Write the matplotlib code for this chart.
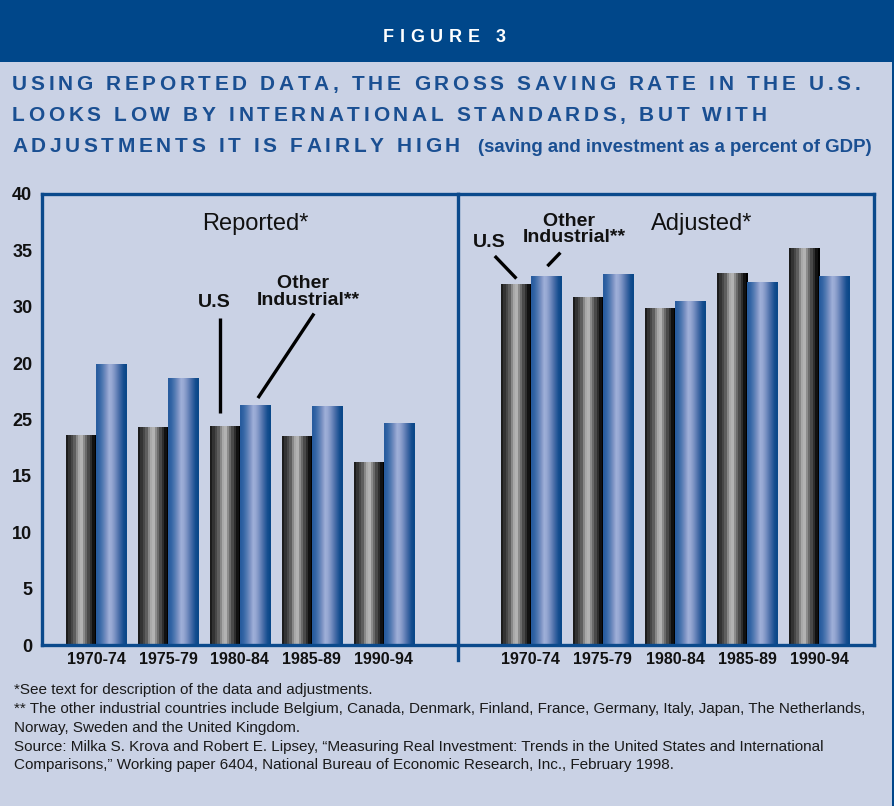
import matplotlib
matplotlib.use('Agg')
import matplotlib.pyplot as plt
import matplotlib.colors as mcolors
import numpy as np
from matplotlib import font_manager
from matplotlib.font_manager import FontProperties
from matplotlib.lines import Line2D
from matplotlib.patches import Rectangle

# ---------------- data ----------------
periods = ['1970-74', '1975-79', '1980-84', '1985-89', '1990-94']
reported_us = [18.6, 19.3, 19.4, 18.5, 16.2]
reported_other = [24.9, 23.7, 21.3, 21.2, 19.7]
adjusted_us = [32.0, 30.9, 29.9, 33.0, 35.2]
adjusted_other = [32.7, 32.9, 30.5, 32.2, 32.7]
y_ticks = [0, 5, 10, 15, 20, 25, 30, 35, 40]
y_tick_labels = ['0', '5', '10', '15', '25', '20', '30', '35', '40']

banner_text = 'FIGURE 3'
title_lines = ['USING REPORTED DATA, THE GROSS SAVING RATE IN THE U.S.',
               'LOOKS LOW BY INTERNATIONAL STANDARDS, BUT WITH',
               'ADJUSTMENTS IT IS FAIRLY HIGH']
subtitle = '(saving and investment as a percent of GDP)'
footnotes = ['*See text for description of the data and adjustments.',
             '** The other industrial countries include Belgium, Canada, Denmark, Finland, France, Germany, Italy, Japan, The Netherlands,',
             'Norway, Sweden and the United Kingdom.',
             'Source: Milka S. Krova and Robert E. Lipsey, \u201cMeasuring Real Investment: Trends in the United States and International',
             'Comparisons,\u201d Working paper 6404, National Bureau of Economic Research, Inc., February 1998.']

# ---------------- style ----------------
BG = '#CAD2E5'
NAVY = '#00478A'
FRAME = '#0B4A8C'
TITLE_C = '#1A4F92'
names = {f.name for f in font_manager.fontManager.ttflist}
SANS = 'Liberation Sans' if 'Liberation Sans' in names else 'DejaVu Sans'
NARROW = 'Liberation Sans Narrow' if 'Liberation Sans Narrow' in names else SANS

W, H = 895, 806
fig = plt.figure(figsize=(W / 100, H / 100), dpi=100)
fig.patch.set_facecolor(BG)
renderer = fig.canvas.get_renderer()


def fx(px):
    return px / W


def fy(py):
    return 1 - py / H


def twidth(s, fp):
    w, h, d = renderer.get_text_width_height_descent(s, fp, ismath=False)
    return w


def advances(s, fp):
    base = twidth('HH', fp)
    return [twidth('H' + ch + 'H', fp) - base for ch in s]


def tracked(x0, ybase, s, fp, tracking, color):
    x = x0
    for ch, adv in zip(s, advances(s, fp)):
        if ch != ' ':
            fig.text(fx(x), fy(ybase), ch, fontproperties=fp, color=color,
                     ha='left', va='baseline')
        x += adv + tracking
    return x - tracking


def fit_size(s, family, weight, target, base=12.0):
    fp = FontProperties(family=family, weight=weight, size=base)
    return base * target / twidth(s, fp)


# banner and right border
fig.add_artist(Rectangle((0, fy(62)), 1, 62 / H, transform=fig.transFigure,
                         facecolor=NAVY, edgecolor='none'))
fig.add_artist(Rectangle((fx(892), 0), 3 / W, 1, transform=fig.transFigure,
                         facecolor=NAVY, edgecolor='none'))

# FIGURE 3
fp_fig = FontProperties(family=SANS, weight='bold', size=13)
adv = advances(banner_text, fp_fig)
trk = (123 - sum(adv)) / (len(banner_text) - 1)
tracked(383, 42, banner_text, fp_fig, trk, 'white')

# Title lines (letter-spaced)
fp_t = FontProperties(family=NARROW, weight='bold', size=15)
adv = advances(title_lines[0], fp_t)
trk = (848 - sum(adv)) / (len(title_lines[0]) - 1)
for s, yb in zip(title_lines, [90, 121, 152]):
    tracked(12, yb, s, fp_t, trk, TITLE_C)
sz = fit_size(subtitle, NARROW, 'bold', 394)
fig.text(fx(478), fy(152), subtitle, family=NARROW, weight='bold', size=sz,
         color=TITLE_C, ha='left', va='baseline')

# Footnotes
fs = fit_size(footnotes[1], NARROW, 'normal', 852)
for s, yb in zip(footnotes, [694, 713, 732, 751, 769]):
    fig.text(fx(14), fy(yb), s, family=NARROW, size=fs, color='#1a1a1a',
             ha='left', va='baseline')

# ---------------- axes ----------------
axL = fig.add_axes([fx(42), fy(645), fx(458) - fx(42), (645 - 194) / H])
axR = fig.add_axes([fx(458), fy(645), fx(874) - fx(458), (645 - 194) / H])

GRAY = ['#1c1c1c', '#333333', '#474747', '#5e5e5e', '#888888', '#a8a8a8',
        '#b2b2b2', '#8c8c8c', '#6a6a6a', '#4a4a4a', '#2e2e2e', '#111111', '#000000']
BLUE = ['#285c9e', '#3566a6', '#4a75af', '#6585bb', '#8297c7', '#9eafd8',
        '#98a9d4', '#8499c8', '#6a86bb', '#4f71ab', '#32609e', '#174f90', '#0a4889']
bw = 0.42


def grad_bar(ax, x, h, colors, interp):
    b = ax.bar(x, h, bw, color=colors[len(colors) // 2], linewidth=0, zorder=2)[0]
    arr = np.array([mcolors.to_rgb(c) for c in colors])[None, :, :]
    im = ax.imshow(arr, extent=(x - bw / 2, x + bw / 2, 0, h), aspect='auto',
                   interpolation=interp, zorder=3)
    im.set_clip_path(b)


for ax, us, oth in [(axL, reported_us, reported_other), (axR, adjusted_us, adjusted_other)]:
    ax.set_facecolor('none')
    for i in range(len(periods)):
        grad_bar(ax, i - bw / 2, us[i], GRAY, 'nearest')
        grad_bar(ax, i + bw / 2, oth[i], BLUE, 'bilinear')
    ax.set_ylim(0, 40)
    ax.set_xticks(range(len(periods)))
    ax.set_xticklabels(periods, fontfamily=SANS, fontweight='bold', fontsize=11.5,
                       color='#111111')
    ax.tick_params(axis='x', length=0, pad=5)
    for sp in ax.spines.values():
        sp.set_color(FRAME)
        sp.set_linewidth(2.4)
        sp.set_zorder(5)

axL.set_xlim(-0.75, 5.03)
axR.set_xlim(-1.01, 4.76)
axL.set_yticks(y_ticks)
axL.set_yticklabels(y_tick_labels, fontfamily=SANS, fontweight='bold', fontsize=13,
                    color='#111111')
axL.tick_params(axis='y', length=0, pad=7)
axR.set_yticks([])
axR.spines['left'].set_visible(False)
axL.spines['right'].set_visible(False)

# divider extending below the axis
fig.add_artist(Line2D([fx(458), fx(458)], [fy(660), fy(194)], transform=fig.transFigure,
                      color=FRAME, linewidth=2.4, zorder=6))

# panel titles
axL.text(2.22, 37.3, 'Reported*', fontfamily=SANS, fontsize=17, color='#111111',
         ha='center', va='center')
axR.text(2.37, 37.3, 'Adjusted*', fontfamily=SANS, fontsize=17, color='#111111',
         ha='center', va='center')

# annotations
akw = dict(fontfamily=SANS, fontweight='bold', fontsize=14, color='#111111',
           ha='center', va='center', multialignment='center', linespacing=0.95)
lkw = dict(color='black', linewidth=2.4, solid_capstyle='butt')
axL.text(1.65, 30.4, 'U.S', **akw)
axL.plot([1.72, 1.72], [20.6, 29.0], **lkw)
axL.text(2.95, 31.3, 'Other  \nIndustrial**', **akw)
axL.plot([3.03, 2.25], [29.4, 21.9], **lkw)

axR.text(-0.57, 35.7, 'U.S', **akw)
axR.plot([-0.50, -0.20], [34.5, 32.5], **lkw)
axR.text(0.61, 36.85, 'Other  \nIndustrial**', **akw)
axR.plot([0.41, 0.23], [34.8, 33.6], **lkw)

fig.savefig('out.png', dpi=100, facecolor=fig.get_facecolor())
